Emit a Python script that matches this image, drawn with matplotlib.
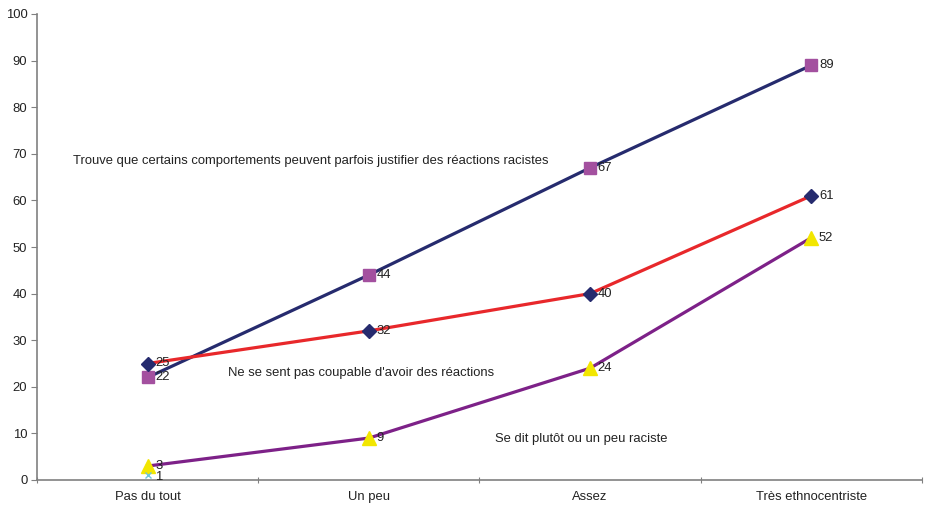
import matplotlib
matplotlib.use("Agg")
import matplotlib.pyplot as plt

categories = ["Pas du tout", "Un peu", "Assez", "Très ethnocentriste"]
justifier = [22, 44, 67, 89]
pas_coupable = [25, 32, 40, 61]
raciste = [3, 9, 24, 52]
autre = [1]

plt.rcParams["font.family"] = ["Liberation Sans", "DejaVu Sans"]

fig = plt.figure(figsize=(9.29, 5.08), dpi=100)
ax = fig.add_axes([37 / 929, 28 / 508, 885 / 929, 466 / 508])

x = [i + 0.5 for i in range(len(categories))]
txt = "#222222"
fs = 9.4

series = [
    (justifier, "#262B6E", "s", "#A3509F", 9),
    (pas_coupable, "#E8282B", "D", "#262B6E", 7.5),
    (raciste, "#7D2188", "^", "#F2E600", 9.5),
]
for vals, lc, mk, mc, ms in series:
    ax.plot(x[:len(vals)], vals, color=lc, lw=2.3, zorder=2)
    ax.plot(x[:len(vals)], vals, ls="none", marker=mk, ms=ms,
            mfc=mc, mec=mc, zorder=3)
    for xi, v in zip(x, vals):
        ax.annotate(str(v), (xi, v), xytext=(5.5, 0), textcoords="offset points",
                    va="center", ha="left", fontsize=fs, color=txt, zorder=4)

ax.plot(x[:len(autre)], autre, ls="none", marker="x", ms=5, mew=1,
        color="#6CC6DC", zorder=3)
for xi, v in zip(x, autre):
    ax.annotate(str(v), (xi, v), xytext=(5.5, -1), textcoords="offset points",
                va="center", ha="left", fontsize=fs, color=txt, zorder=4)

ax.text(0.163, 68.5, "Trouve que certains comportements peuvent parfois justifier des réactions racistes",
        fontsize=fs, color=txt, va="center", ha="left")
ax.text(0.863, 23.0, "Ne se sent pas coupable d'avoir des réactions",
        fontsize=fs, color=txt, va="center", ha="left")
ax.text(2.07, 8.8, "Se dit plutôt ou un peu raciste",
        fontsize=fs, color=txt, va="center", ha="left")

ax.set_xlim(0, len(categories))
ax.set_ylim(0, 100)
ax.set_yticks(range(0, 101, 10))
ax.set_xticks(range(0, len(categories) + 1), minor=False)
ax.set_xticklabels([""] * (len(categories) + 1))
ax.set_xticks(x, minor=True)
ax.set_xticklabels(categories, minor=True)
ax.tick_params(axis="x", which="minor", length=0, pad=8, labelsize=fs, labelcolor=txt)
ax.tick_params(axis="x", which="major", length=5, direction="inout", color="#808080")
ax.tick_params(axis="y", length=4, direction="out", color="#808080", labelsize=fs,
               labelcolor=txt, pad=3)

for s in ["top", "right"]:
    ax.spines[s].set_visible(False)
for s in ["left", "bottom"]:
    ax.spines[s].set_color("#808080")
    ax.spines[s].set_linewidth(1.2)

fig.savefig("out.png", dpi=100)
